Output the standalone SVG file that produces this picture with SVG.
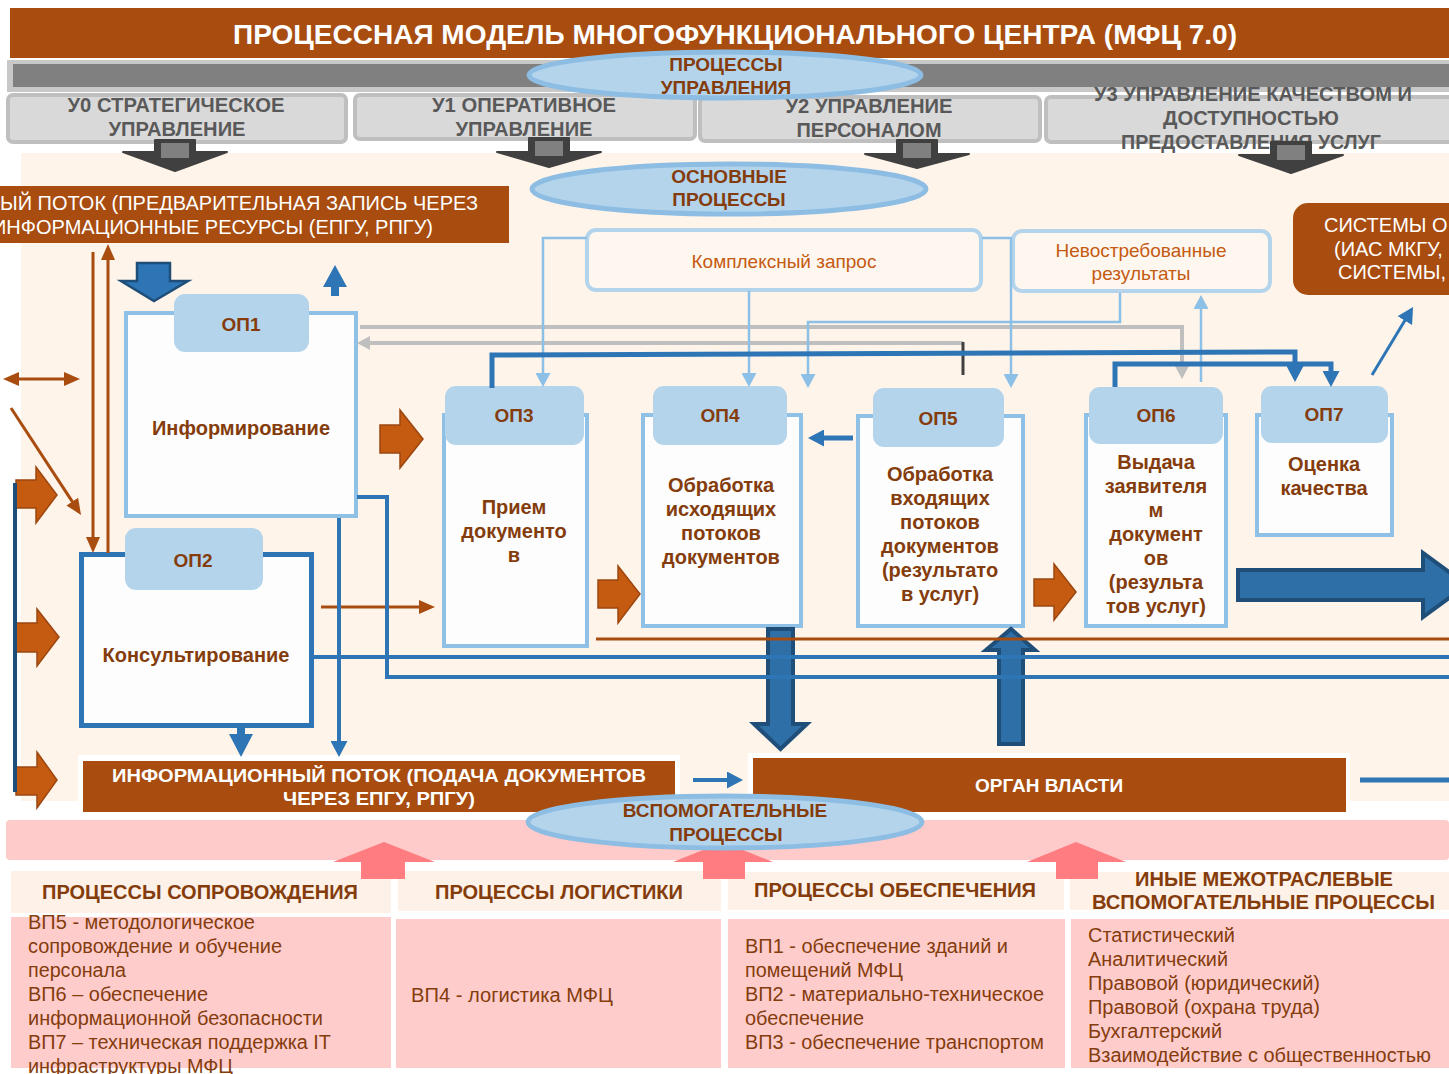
<svg xmlns="http://www.w3.org/2000/svg" width="1449" height="1074" viewBox="0 0 1449 1074">
<style>
text{font-family:"Liberation Sans",Arial,sans-serif}
.nar{font-family:"Liberation Sans Narrow","Liberation Sans",Arial,sans-serif}
.title{font-size:28px;font-weight:bold;fill:#fff}
.tab{fill:#D9D9D9;stroke:#BFBFBF;stroke-width:4}
.tabt{font-size:20px;font-weight:bold;fill:#595959;text-anchor:middle}
.ell{fill:#B4D4EC;stroke:#8DBDE3;stroke-width:5}
.ellt{font-size:19px;font-weight:bold;fill:#843C0C;text-anchor:middle}
.box{fill:#FDFDFD;stroke:#8FC0E5;stroke-width:4}
.box2{fill:#FDFDFD;stroke:#2E75B6;stroke-width:5}
.optab{fill:#B4D4EC}
.opt{font-size:19px;font-weight:bold;fill:#843C0C;text-anchor:middle}
.opb{font-size:20px;font-weight:bold;fill:#843C0C;text-anchor:middle}
.note{fill:#FEF7F0;stroke:#B4D4EC;stroke-width:4}
.notet{font-size:19px;fill:#C55A11;text-anchor:middle}
.brown{fill:#A84C0F}
.wt{font-size:20px;fill:#fff}
.wtb{font-size:19px;font-weight:bold;fill:#fff;text-anchor:middle}
.hdr{fill:#FEF1E7}
.cell{fill:#FFCCCC}
.hdrt{font-size:21px;font-weight:bold;fill:#843C0C}
.cellt{font-size:20px;fill:#843C0C}
.dk{fill:#404040;stroke:#404040;stroke-width:2;stroke-linejoin:round}
.dkin{fill:#808080}
.orr{fill:#C55A11;stroke:#9C4710;stroke-width:1.5}
.bbig{fill:#2E6FA8;stroke:#1F4E79;stroke-width:4}
.bsm{fill:#2E75B6;stroke:#1F4E79;stroke-width:2.5}
.pk{fill:#FF7C80}
.lbr{fill:none;stroke:#A84C0F;stroke-width:3}
.lbl{fill:none;stroke:#2E75B6;stroke-width:4}
.lbt{fill:none;stroke:#2E75B6;stroke-width:5}
.llt{fill:none;stroke:#8DC0E6;stroke-width:2.5}
.lgr{fill:none;stroke:#BFBFBF;stroke-width:4}
</style>
<defs>
<marker id="ab" viewBox="0 0 16 14" markerWidth="16" markerHeight="14" refX="1" refY="7" orient="auto-start-reverse" markerUnits="userSpaceOnUse"><path d="M0,0L16,7L0,14z" fill="#A84C0F"/></marker>
<marker id="au" viewBox="0 0 16 17" markerWidth="16" markerHeight="17" refX="1" refY="8.5" orient="auto" markerUnits="userSpaceOnUse"><path d="M0,0L16,8.5L0,17z" fill="#2E75B6"/></marker>
<marker id="al" viewBox="0 0 14 15" markerWidth="14" markerHeight="15" refX="1" refY="7.5" orient="auto" markerUnits="userSpaceOnUse"><path d="M0,0L14,7.5L0,15z" fill="#8DC0E6"/></marker>
<marker id="ag" viewBox="0 0 13 14" markerWidth="13" markerHeight="14" refX="1" refY="7" orient="auto" markerUnits="userSpaceOnUse"><path d="M0,0L13,7L0,14z" fill="#BFBFBF"/></marker>
</defs>

<!-- page background -->
<rect width="1449" height="1074" fill="#fff"/>

<!-- title bar -->
<g id="title">
<rect x="10" y="8" width="1439" height="50" class="brown"/>
<text x="735" y="44" class="title nar" text-anchor="middle" textLength="1004" lengthAdjust="spacingAndGlyphs">ПРОЦЕССНАЯ МОДЕЛЬ МНОГОФУНКЦИОНАЛЬНОГО ЦЕНТРА (МФЦ 7.0)</text>
</g>

<!-- management band -->
<g id="mgmt-band">
<rect x="7" y="60" width="1442" height="32" fill="#C8C8C8"/>
<rect x="13" y="64" width="1436" height="23" fill="#808080"/>
</g>

<!-- main process area -->
<rect id="main-area" x="21" y="153" width="1428" height="648" fill="#FEF4EA"/>

<!-- management tabs -->
<g id="u0">
<rect x="8" y="95" width="338" height="47" rx="5" class="tab"/>
<text x="176" y="112" class="tabt nar" textLength="217" lengthAdjust="spacingAndGlyphs">У0 СТРАТЕГИЧЕСКОЕ</text>
<text x="177" y="136" class="tabt nar" textLength="137" lengthAdjust="spacingAndGlyphs">УПРАВЛЕНИЕ</text>
</g>
<g id="u1">
<rect x="355" y="95" width="340" height="44" rx="5" class="tab"/>
<text x="524" y="112" class="tabt nar" textLength="184" lengthAdjust="spacingAndGlyphs">У1 ОПЕРАТИВНОЕ</text>
<text x="524" y="136" class="tabt nar" textLength="137" lengthAdjust="spacingAndGlyphs">УПРАВЛЕНИЕ</text>
</g>
<g id="u2">
<rect x="700" y="97" width="340" height="44" rx="5" class="tab"/>
<text x="869" y="113" class="tabt nar" textLength="167" lengthAdjust="spacingAndGlyphs">У2 УПРАВЛЕНИЕ</text>
<text x="869" y="137" class="tabt nar" textLength="145" lengthAdjust="spacingAndGlyphs">ПЕРСОНАЛОМ</text>
</g>
<g id="u3">
<rect x="1046" y="97" width="410" height="45" rx="5" class="tab"/>
<text x="1253" y="101" class="tabt nar" textLength="318" lengthAdjust="spacingAndGlyphs">У3 УПРАВЛЕНИЕ КАЧЕСТВОМ И</text>
<text x="1251" y="125" class="tabt nar" textLength="176" lengthAdjust="spacingAndGlyphs">ДОСТУПНОСТЬЮ</text>
<text x="1251" y="149" class="tabt nar" textLength="260" lengthAdjust="spacingAndGlyphs">ПРЕДОСТАВЛЕНИЯ УСЛУГ</text>
</g>

<!-- management down arrows -->
<g id="mgmt-arrows">
<polygon class="dk" points="155,140 195,140 195,152 227,152 175,171 123,152 155,152"/>
<rect class="dkin" x="161" y="143" width="28" height="15"/>
<polygon class="dk" points="529,138 569,138 569,152 601,152 549,167 497,152 529,152"/>
<rect class="dkin" x="535" y="141" width="28" height="15"/>
<polygon class="dk" points="897,140 937,140 937,154 969,154 917,168 865,154 897,154"/>
<rect class="dkin" x="903" y="143" width="28" height="15"/>
<polygon class="dk" points="1271,142 1311,142 1311,155 1343,155 1291,173 1239,155 1271,155"/>
<rect class="dkin" x="1277" y="145" width="28" height="15"/>
</g>

<g id="ell-mgmt">
<ellipse cx="725" cy="75" rx="196" ry="23" class="ell"/>
<text x="726" y="71" class="ellt">ПРОЦЕССЫ</text>
<text x="726" y="94" class="ellt">УПРАВЛЕНИЯ</text>
</g>
<g id="ell-main">
<ellipse cx="729" cy="189" rx="197" ry="25" class="ell"/>
<text x="729" y="183" class="ellt">ОСНОВНЫЕ</text>
<text x="729" y="206" class="ellt">ПРОЦЕССЫ</text>
</g>

<!-- pre-registration info flow -->
<g id="flow-prereg">
<rect x="0" y="186" width="509" height="57" class="brown"/>
<text x="0" y="210" class="wt" textLength="478" lengthAdjust="spacingAndGlyphs">ЫЙ ПОТОК (ПРЕДВАРИТЕЛЬНАЯ ЗАПИСЬ ЧЕРЕЗ</text>
<text x="-8" y="234" class="wt" textLength="441" lengthAdjust="spacingAndGlyphs">ИНФОРМАЦИОННЫЕ РЕСУРСЫ (ЕПГУ, РПГУ)</text>
</g>

<g id="systems">
<rect x="1293" y="203" width="180" height="92" rx="15" class="brown"/>
<text x="1324" y="232" class="wt">СИСТЕМЫ О</text>
<text x="1334" y="256" class="wt">(ИАС МКГУ,</text>
<text x="1338" y="279" class="wt">СИСТЕМЫ,</text>
</g>

<g id="complex-request">
<rect x="587" y="230" width="394" height="60" rx="9" class="note"/>
<text x="784" y="268" class="notet">Комплексный запрос</text>
</g>
<g id="unclaimed">
<rect x="1013" y="231" width="257" height="60" rx="9" class="note"/>
<text x="1141" y="257" class="notet">Невостребованные</text>
<text x="1141" y="280" class="notet">результаты</text>
</g>

<!-- main process nodes -->
<g id="op1">
<rect x="126" y="313" width="230" height="203" class="box"/>
<rect x="174" y="294" width="135" height="58" rx="11" class="optab"/>
<text x="241" y="331" class="opt">ОП1</text>
<text x="241" y="435" class="opb">Информирование</text>
</g>
<g id="op2">
<rect x="81.5" y="554.5" width="230" height="171" class="box2"/>
<rect x="125" y="528" width="138" height="62" rx="11" class="optab"/>
<text x="193" y="567" class="opt">ОП2</text>
<text x="196" y="662" class="opb">Консультирование</text>
</g>
<g id="op3">
<rect x="444" y="415" width="143" height="231" class="box"/>
<rect x="445" y="386" width="139" height="59" rx="11" class="optab"/>
<text x="514" y="422" class="opt">ОП3</text>
<text x="514" y="514" class="opb">Прием</text>
<text x="514" y="538" class="opb">документо</text>
<text x="514" y="562" class="opb">в</text>
</g>
<g id="op4">
<rect x="643" y="415" width="158" height="211" class="box"/>
<rect x="653" y="386" width="134" height="59" rx="11" class="optab"/>
<text x="720" y="422" class="opt">ОП4</text>
<text x="721" y="492" class="opb">Обработка</text>
<text x="721" y="516" class="opb">исходящих</text>
<text x="721" y="540" class="opb">потоков</text>
<text x="721" y="564" class="opb">документов</text>
</g>
<g id="op5">
<rect x="858" y="416" width="165" height="210" class="box"/>
<rect x="873" y="388" width="131" height="59" rx="11" class="optab"/>
<text x="938" y="425" class="opt">ОП5</text>
<text x="940" y="481" class="opb">Обработка</text>
<text x="940" y="505" class="opb">входящих</text>
<text x="940" y="529" class="opb">потоков</text>
<text x="940" y="553" class="opb">документов</text>
<text x="940" y="577" class="opb">(результато</text>
<text x="940" y="601" class="opb">в услуг)</text>
</g>
<g id="op6">
<rect x="1086" y="415" width="140" height="211" class="box"/>
<rect x="1089" y="387" width="134" height="57" rx="11" class="optab"/>
<text x="1156" y="422" class="opt">ОП6</text>
<text x="1156" y="469" class="opb">Выдача</text>
<text x="1156" y="493" class="opb">заявителя</text>
<text x="1156" y="517" class="opb">м</text>
<text x="1156" y="541" class="opb">документ</text>
<text x="1156" y="565" class="opb">ов</text>
<text x="1156" y="589" class="opb">(результа</text>
<text x="1156" y="613" class="opb">тов услуг)</text>
</g>
<g id="op7">
<rect x="1257" y="415" width="135" height="120" class="box"/>
<rect x="1261" y="386" width="127" height="57" rx="11" class="optab"/>
<text x="1324" y="421" class="opt">ОП7</text>
<text x="1324" y="471" class="opb">Оценка</text>
<text x="1324" y="495" class="opb">качества</text>
</g>

<!-- lower flow boxes -->
<g id="flow-submit">
<rect x="78" y="755" width="602" height="60" fill="#fff"/>
<rect x="83" y="761" width="592" height="51" class="brown"/>
<text x="379" y="782" class="wtb" textLength="534" lengthAdjust="spacingAndGlyphs">ИНФОРМАЦИОННЫЙ ПОТОК (ПОДАЧА ДОКУМЕНТОВ</text>
<text x="379" y="805" class="wtb" textLength="192" lengthAdjust="spacingAndGlyphs">ЧЕРЕЗ ЕПГУ, РПГУ)</text>
</g>
<g id="authority">
<rect x="748" y="753" width="602" height="62" fill="#fff"/>
<rect x="753" y="758" width="593" height="54" class="brown"/>
<text x="1049" y="792" class="wtb">ОРГАН ВЛАСТИ</text>
</g>

<!-- connectors -->
<g id="connectors">
<!-- block arrows -->
<polygon class="orr" points="380,425 400,425 400,410 423,439 400,468 400,453 380,453"/>
<polygon class="orr" points="16,480 36,480 36,467 57,495 36,523 36,508 16,508"/>
<polygon class="orr" points="16,623 37,623 37,609 59,637 37,666 37,652 16,652"/>
<polygon class="orr" points="16,767 37,767 37,752 57,780 37,808 37,795 16,795"/>
<polygon class="orr" points="598,580 618,580 618,566 640,594 618,623 618,608 598,608"/>
<polygon class="orr" points="1034,579 1054,579 1054,564 1076,592 1054,620 1054,606 1034,606"/>
<polygon class="bbig" points="1238,570 1423,570 1423,553 1467,585 1423,617 1423,600 1238,600"/>
<polygon class="bbig" points="768,629 793,629 793,724 807,724 780.5,749 754,724 768,724"/>
<polygon class="bbig" points="999,744 1023,744 1023,650 1035,650 1011,629 986,650 999,650"/>
<polygon class="bsm" points="137,263 170,263 170,281 188,281 154,301 121,281 137,281"/>
<polygon fill="#2E75B6" points="331,296 339,296 339,287 347,287 335,265 323,287 331,287"/>
<polygon fill="#2E75B6" points="237,728 245,728 245,734 253,734 241,757 229,734 237,734"/>

<!-- brown links -->
<path class="lbr" d="M18,379H65" marker-start="url(#ab)" marker-end="url(#ab)"/>
<path class="lbr" d="M11,408L72.8,502.4" marker-end="url(#ab)"/>
<path class="lbr" d="M93,252V538" marker-end="url(#ab)"/>
<path class="lbr" d="M108,553V259" marker-end="url(#ab)"/>
<path class="lbr" d="M321,607H420" marker-end="url(#ab)"/>
<path class="lbr" d="M596,639H1449"/>

<!-- gray links -->
<path class="lgr" d="M360,327H1182V367" marker-end="url(#ag)"/>
<path class="lgr" d="M963,343H369" marker-end="url(#ag)"/>
<path d="M963,342V375" stroke="#404040" stroke-width="3"/>

<!-- light blue links -->
<path class="llt" d="M587,238H543V374" marker-end="url(#al)"/>
<path class="llt" d="M749,291V374" marker-end="url(#al)"/>
<path class="llt" d="M1120,293V322H808V375" marker-end="url(#al)"/>
<path class="llt" d="M982,238H1011V375" marker-end="url(#al)"/>
<path class="llt" d="M1201,382V308" marker-end="url(#al)"/>

<!-- blue links -->
<path class="lbt" d="M492,388V355L1295,352V367" marker-end="url(#au)"/>
<path class="lbt" d="M1115,387V364H1331V372" marker-end="url(#au)"/>
<path class="lbt" d="M853,438H823" marker-end="url(#au)"/>
<path fill="none" stroke="#2E75B6" stroke-width="3" d="M1372,375L1405.3,319.8" marker-end="url(#au)"/>
<path class="lbl" d="M357,497H387V677H1449"/>
<path class="lbl" d="M314,657H1449"/>
<path class="lbl" d="M339,518V742" marker-end="url(#au)"/>
<path class="lbl" d="M693,780H728" marker-end="url(#au)"/>
<path class="lbt" d="M1360,780H1449"/>
<path fill="none" stroke="#1F4E79" stroke-width="4" d="M15,483V792"/>
</g>

<!-- supporting processes -->
<rect id="support-band" x="6" y="820" width="1443" height="40" rx="4" fill="#FECACA"/>

<g id="sp-escort">
<rect x="11" y="871" width="380" height="42" class="hdr"/>
<text x="42" y="899" class="hdrt nar" textLength="316" lengthAdjust="spacingAndGlyphs">ПРОЦЕССЫ СОПРОВОЖДЕНИЯ</text>
<rect x="11" y="917" width="380" height="151" class="cell"/>
<text x="28" y="929" class="cellt nar" textLength="227" lengthAdjust="spacingAndGlyphs">ВП5 - методологическое</text>
<text x="28" y="953" class="cellt nar" textLength="254" lengthAdjust="spacingAndGlyphs">сопровождение и обучение</text>
<text x="28" y="977" class="cellt nar" textLength="98" lengthAdjust="spacingAndGlyphs">персонала</text>
<text x="28" y="1001" class="cellt nar" textLength="180" lengthAdjust="spacingAndGlyphs">ВП6 – обеспечение</text>
<text x="28" y="1025" class="cellt nar" textLength="295" lengthAdjust="spacingAndGlyphs">информационной безопасности</text>
<text x="28" y="1049" class="cellt nar" textLength="303" lengthAdjust="spacingAndGlyphs">ВП7 – техническая поддержка IT</text>
<text x="28" y="1073" class="cellt nar" textLength="205" lengthAdjust="spacingAndGlyphs">инфраструктуры МФЦ</text>
</g>
<g id="sp-logistics">
<rect x="398" y="871" width="323" height="40" class="hdr"/>
<text x="435" y="899" class="hdrt nar" textLength="248" lengthAdjust="spacingAndGlyphs">ПРОЦЕССЫ ЛОГИСТИКИ</text>
<rect x="396" y="919" width="325" height="149" class="cell"/>
<text x="411" y="1002" class="cellt nar" textLength="202" lengthAdjust="spacingAndGlyphs">ВП4 - логистика МФЦ</text>
</g>
<g id="sp-provision">
<rect x="728" y="872" width="336" height="38" class="hdr"/>
<text x="754" y="897" class="hdrt nar" textLength="282" lengthAdjust="spacingAndGlyphs">ПРОЦЕССЫ ОБЕСПЕЧЕНИЯ</text>
<rect x="728" y="919" width="337" height="149" class="cell"/>
<text x="745" y="953" class="cellt nar" textLength="263" lengthAdjust="spacingAndGlyphs">ВП1 - обеспечение зданий и</text>
<text x="745" y="977" class="cellt nar" textLength="158" lengthAdjust="spacingAndGlyphs">помещений МФЦ</text>
<text x="745" y="1001" class="cellt nar" textLength="299" lengthAdjust="spacingAndGlyphs">ВП2 - материально-техническое</text>
<text x="745" y="1025" class="cellt nar" textLength="119" lengthAdjust="spacingAndGlyphs">обеспечение</text>
<text x="745" y="1049" class="cellt nar" textLength="299" lengthAdjust="spacingAndGlyphs">ВП3 - обеспечение транспортом</text>
</g>
<g id="sp-other">
<rect x="1070" y="872" width="379" height="38" class="hdr"/>
<text x="1135" y="886" class="hdrt nar" textLength="258" lengthAdjust="spacingAndGlyphs">ИНЫЕ МЕЖОТРАСЛЕВЫЕ</text>
<text x="1092" y="909" class="hdrt nar" textLength="343" lengthAdjust="spacingAndGlyphs">ВСПОМОГАТЕЛЬНЫЕ ПРОЦЕССЫ</text>
<rect x="1071" y="919" width="378" height="149" class="cell"/>
<text x="1088" y="942" class="cellt nar" textLength="147" lengthAdjust="spacingAndGlyphs">Статистический</text>
<text x="1088" y="966" class="cellt nar" textLength="140" lengthAdjust="spacingAndGlyphs">Аналитический</text>
<text x="1088" y="990" class="cellt nar" textLength="232" lengthAdjust="spacingAndGlyphs">Правовой (юридический)</text>
<text x="1088" y="1014" class="cellt nar" textLength="232" lengthAdjust="spacingAndGlyphs">Правовой (охрана труда)</text>
<text x="1088" y="1038" class="cellt nar" textLength="134" lengthAdjust="spacingAndGlyphs">Бухгалтерский</text>
<text x="1088" y="1062" class="cellt nar" textLength="343" lengthAdjust="spacingAndGlyphs">Взаимодействие с общественностью</text>
</g>

<g id="support-arrows">
<polygon class="pk" points="361,879 405,879 405,862 435,862 384,842 333,862 361,862"/>
<polygon class="pk" points="703,879 745,879 745,862 773,862 723,842 673,862 703,862"/>
<polygon class="pk" points="1056,879 1098,879 1098,862 1126,862 1076,842 1027,862 1056,862"/>
</g>

<g id="ell-support">
<ellipse cx="725" cy="822" rx="197" ry="26" class="ell"/>
<text x="725" y="817" class="ellt">ВСПОМОГАТЕЛЬНЫЕ</text>
<text x="726" y="841" class="ellt">ПРОЦЕССЫ</text>
</g>
</svg>
